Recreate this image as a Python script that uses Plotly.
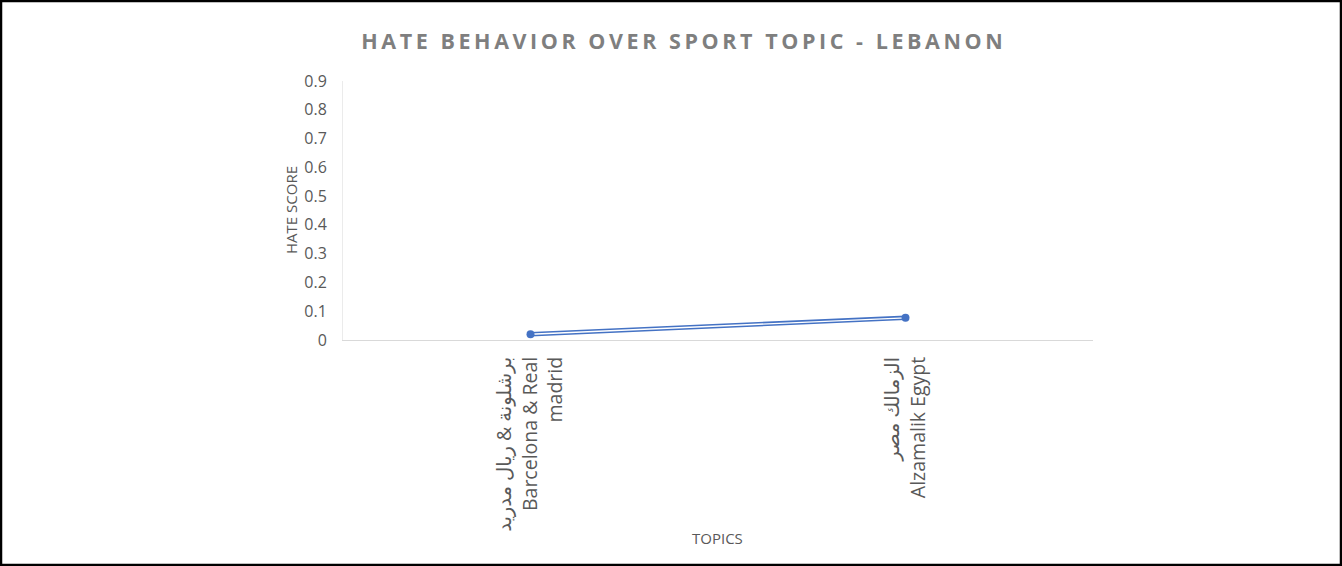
import plotly.graph_objects as go

# 資料
topics = ["برشلونة & ريال مدريد<br>Barcelona & Real<br>madrid",
          "الزمالك مصر<br>Alzamalik Egypt"]
hate_score = [0.02, 0.077]
y_ticks = [0, 0.1, 0.2, 0.3, 0.4, 0.5, 0.6, 0.7, 0.8, 0.9]
y_tick_text = ["0", "0.1", "0.2", "0.3", "0.4", "0.5", "0.6", "0.7", "0.8", "0.9"]
chart_title = "HATE BEHAVIOR OVER SPORT TOPIC - LEBANON"

blue = "#4472C4"
gray = "#595959"

fig = go.Figure()
# 雙線效果：外層藍色粗線
fig.add_trace(go.Scatter(x=topics, y=hate_score, mode="lines",
                         line=dict(color=blue, width=4.5),
                         hoverinfo="skip", showlegend=False))
# 內層白線
fig.add_trace(go.Scatter(x=topics, y=hate_score, mode="lines",
                         line=dict(color="white", width=1.4),
                         hoverinfo="skip", showlegend=False))
# 標記點放在最上層
fig.add_trace(go.Scatter(x=topics, y=hate_score, mode="markers",
                         marker=dict(color=blue, size=8),
                         showlegend=False))

L, R, T, B = 343, 249, 81, 226
W, H = 1342, 566
pw, ph = W - L - R, H - T - B

# 標題字距：字母之間插入細空格
spaced_title = "\u2009".join(chart_title)

fig.update_layout(
    width=W, height=H,
    margin=dict(l=L, r=R, t=T, b=B),
    paper_bgcolor="white", plot_bgcolor="white",
    font=dict(family="Open Sans, sans-serif", color=gray),
    title=dict(text="<b>" + spaced_title + "</b>",
               x=682 / W, xanchor="center", xref="container",
               y=1 - 41 / H, yanchor="middle", yref="container",
               font=dict(size=21.5, color="#7F7F7F", family="Open Sans, sans-serif")),
    xaxis=dict(type="category", range=[-0.5, 1.5], showgrid=False,
               showline=True, linecolor="#D9D9D9", linewidth=1,
               ticks="", tickangle=-90, ticklabelstandoff=8,
               tickfont=dict(size=19.5, color=gray, family="Open Sans, DejaVu Sans, sans-serif"),
               zeroline=False),
    yaxis=dict(range=[0, 0.9], tickvals=y_ticks, ticktext=y_tick_text,
               showgrid=False, showline=True, linecolor="#EBEBEB", linewidth=1,
               ticks="", ticklabelstandoff=12,
               tickfont=dict(size=16, color=gray), zeroline=False),
    annotations=[
        dict(text="HATE SCORE", xref="paper", yref="paper",
             x=(291 - L) / pw, y=(T + ph - 210) / ph, textangle=-90,
             showarrow=False, xanchor="center", yanchor="middle",
             font=dict(size=15, color=gray)),
        dict(text="TOPICS", xref="paper", yref="paper",
             x=(717 - L) / pw, y=(T + ph - 538) / ph,
             showarrow=False, xanchor="center", yanchor="middle",
             font=dict(size=15, color=gray)),
    ],
    shapes=[dict(type="rect", xref="paper", yref="paper",
                 x0=(1 - L) / pw, x1=(W - 1 - L) / pw,
                 y0=(T + ph - (H - 1)) / ph, y1=(T + ph - 1) / ph,
                 line=dict(color="black", width=2.5))],
)

# 去掉頁面預設的 body 邊距，讓圖表貼齊視窗
fig.write_html("out.html", config={"displayModeBar": False},
               post_script="document.body.style.margin='0px';")
